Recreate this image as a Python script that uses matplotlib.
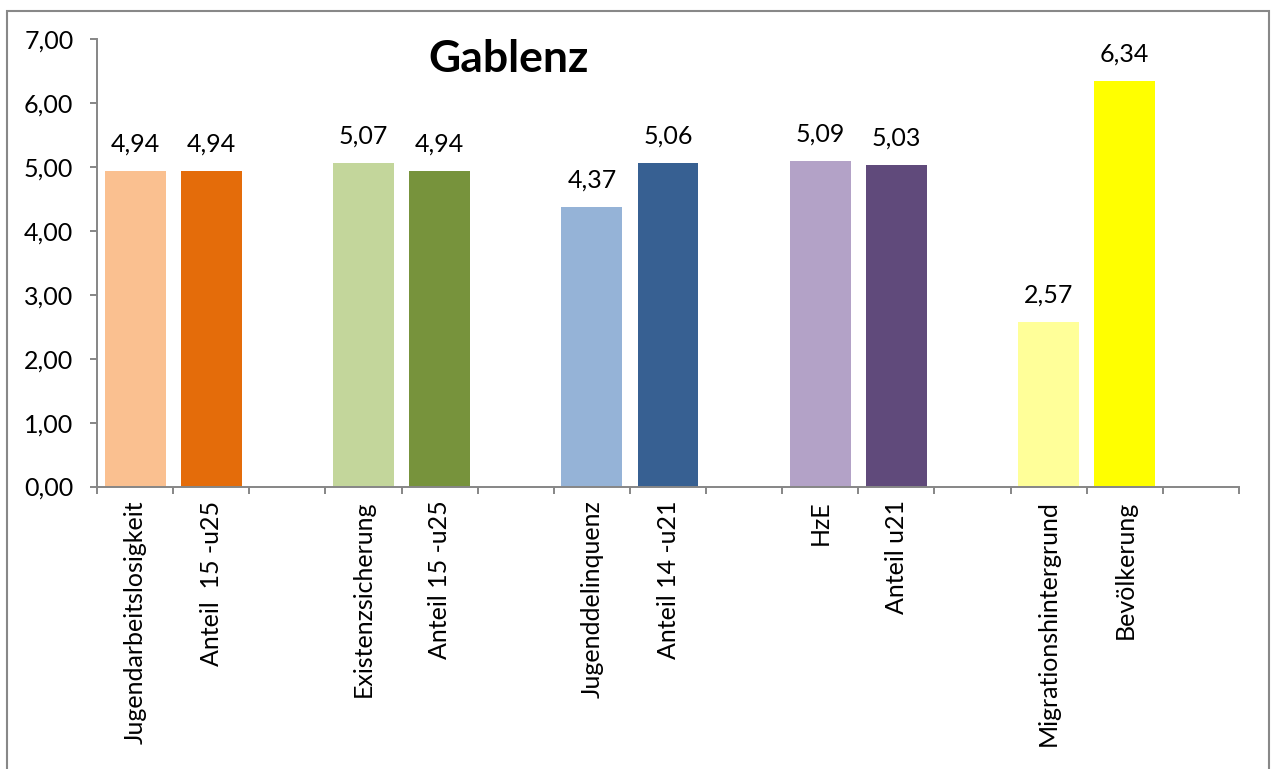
import matplotlib
matplotlib.use("Agg")
import matplotlib.pyplot as plt
from matplotlib.patches import Rectangle
from matplotlib.ticker import FixedLocator, FuncFormatter

categories = ["Jugendarbeitslosigkeit", "Anteil  15 -u25",
              "Existenzsicherung", "Anteil 15 -u25",
              "Jugenddelinquenz", "Anteil 14 -u21",
              "HzE", "Anteil u21",
              "Migrationshintergrund", "Bevölkerung"]
values = [4.94, 4.94, 5.07, 4.94, 4.37, 5.06, 5.09, 5.03, 2.57, 6.34]
colors = ["#FAC090", "#E46C0A", "#C3D69B", "#77933C", "#95B3D7",
          "#376092", "#B3A2C7", "#604A7B", "#FFFF99", "#FFFF00"]
yticks = [0, 1, 2, 3, 4, 5, 6, 7]
title = "Gablenz"

plt.rcParams['font.family'] = ['Lato', 'DejaVu Sans']
W, H = 1271, 769
fig = plt.figure(figsize=(W / 100, H / 100), dpi=100)
ax = fig.add_axes([97 / W, 1 - 486.5 / H, (1239 - 97) / W, (486.5 - 39.3) / H])

# positions: 2 bars per group, one blank slot after each group
pos = [(i // 2) * 3 + (i % 2) for i in range(len(values))]
ax.bar(pos, values, width=0.8, color=colors, zorder=2)
for x, v in zip(pos, values):
    ax.annotate(f"{v:.2f}".replace(".", ","), (x, v), xytext=(0, 14),
                textcoords="offset points", ha="center", va="baseline",
                fontsize=18, color="black")

nslots = 15
ax.set_xlim(-0.5, nslots - 0.5)
ax.set_ylim(0, 7)
gray = "#868686"
for s in ["top", "right"]:
    ax.spines[s].set_visible(False)
for s in ["left", "bottom"]:
    ax.spines[s].set_color(gray)
    ax.spines[s].set_linewidth(1.4)

ax.set_yticks(yticks)
ax.yaxis.set_major_formatter(FuncFormatter(lambda v, p: f"{v:.2f}".replace(".", ",")))
ax.tick_params(axis="y", direction="out", length=5, width=1.4, color=gray,
               labelsize=18, pad=12)

ax.xaxis.set_major_locator(FixedLocator([k - 0.5 for k in range(nslots + 1)]))
ax.xaxis.set_minor_locator(FixedLocator(pos))
ax.xaxis.set_major_formatter(FuncFormatter(lambda v, p: ""))
ax.set_xticklabels(categories, minor=True, rotation=90)
ax.tick_params(axis="x", which="major", direction="out", length=5, width=1.4, color=gray)
ax.tick_params(axis="x", which="minor", length=0, labelsize=18, pad=10)

fig.text(509 / W, 1 - 72 / H, title, ha="center", va="baseline",
         fontsize=32, fontweight="bold")

fig.patches.append(Rectangle((7 / W, -0.1), (1269 - 7) / W, 1 - 11 / H + 0.1,
                             transform=fig.transFigure, fill=False,
                             edgecolor="#888888", linewidth=1.5))

fig.savefig("out.png", dpi=100)
